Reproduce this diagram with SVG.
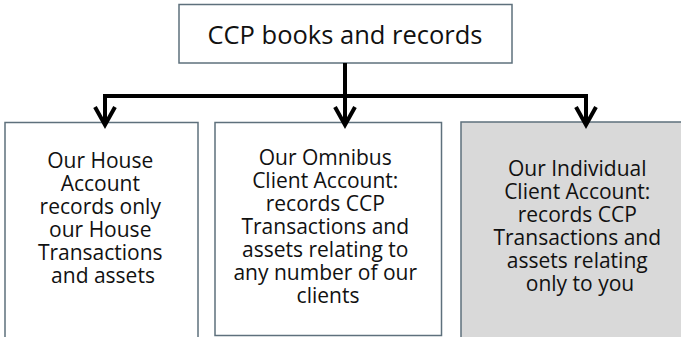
<svg xmlns="http://www.w3.org/2000/svg" width="681" height="337" viewBox="0 0 681 337">
<style>
.box{fill:#ffffff;stroke:#5e707c;stroke-width:1.5}
.grey{fill:#d9d9d9}
.t{font-family:"Open Sans","Noto Sans","DejaVu Sans",sans-serif;font-size:21px;fill:#111111;text-anchor:middle}
.title{font-size:25.5px}
.conn{fill:none;stroke:#000000;stroke-width:4;stroke-linejoin:miter;stroke-linecap:butt}
</style>
<rect x="0" y="0" width="681" height="337" fill="#ffffff"/>
<g id="node-top">
<rect class="box" x="179" y="4.5" width="333" height="58.5"/>
<text class="t title" x="345" y="43.5">CCP books and records</text>
</g>
<g id="node-house">
<rect class="box" x="5" y="122.5" width="193" height="230"/>
<text class="t">
<tspan x="103" y="168">Our House</tspan>
<tspan x="103" y="191">Account</tspan>
<tspan x="103" y="214">records only</tspan>
<tspan x="103" y="237">our House</tspan>
<tspan x="103" y="260">Transactions</tspan>
<tspan x="103" y="283">and assets</tspan>
</text>
</g>
<g id="node-omnibus">
<rect class="box" x="215" y="122.5" width="226.5" height="213"/>
<text class="t">
<tspan x="328" y="165">Our Omnibus</tspan>
<tspan x="328" y="188">Client Account:</tspan>
<tspan x="328" y="211">records CCP</tspan>
<tspan x="328" y="234">Transactions and</tspan>
<tspan x="328" y="257">assets relating to</tspan>
<tspan x="328" y="280">any number of our</tspan>
<tspan x="328" y="303">clients</tspan>
</text>
</g>
<g id="node-individual">
<rect class="box grey" x="461" y="122" width="240" height="230"/>
<text class="t">
<tspan x="580" y="176">Our Individual</tspan>
<tspan x="580" y="199">Client Account:</tspan>
<tspan x="580" y="222">records CCP</tspan>
<tspan x="580" y="245">Transactions and</tspan>
<tspan x="580" y="268">assets relating</tspan>
<tspan x="580" y="291">only to you</tspan>
</text>
</g>
<g id="connectors">
<path class="conn" d="M345,63 V96"/>
<path class="conn" d="M105,124 V96 H586 V124"/>
<path class="conn" d="M345,96 V124"/>
<polyline class="conn" points="95,107 105,125 115,107"/>
<polyline class="conn" points="335,107 345,125 355,107"/>
<polyline class="conn" points="576,107 586,125 596,107"/>
</g>
</svg>
